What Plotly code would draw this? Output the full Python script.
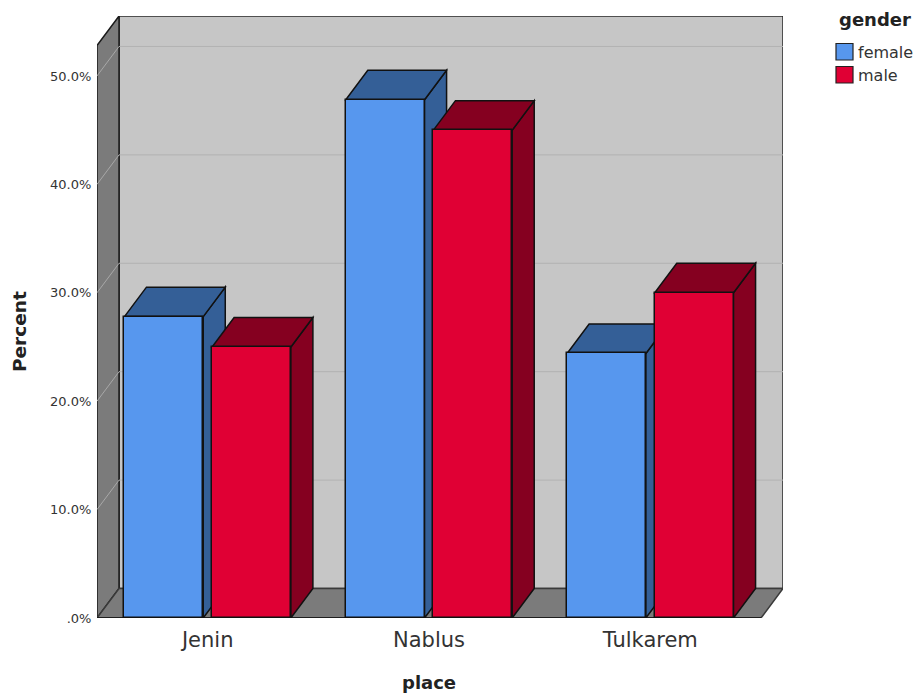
import plotly.graph_objects as go

# Survey shares by place and gender (percent within each gender)
places = ["Jenin", "Nablus", "Tulkarem"]
female = [27.8, 47.8, 24.4]
male = [25.0, 45.0, 30.0]
series_names = ["female", "male"]
y_ticks = [0, 10, 20, 30, 40, 50]
y_tick_labels = [".0%", "10.0%", "20.0%", "30.0%", "40.0%", "50.0%"]

# Pseudo-3D box: depth offset of the back plane, in axis units
DEPTH_X = 0.0995
DEPTH_Y = 2.72
Y_MAX = 55.53
Y_FRONT_TOP = Y_MAX - DEPTH_Y
X_MIN, X_FRONT_MAX = -0.5, 2.5
BAR_W = 0.356
OFFSETS = [-0.376, 0.02]

BLUE, BLUE_DARK = "#5797ee", "#345f97"
RED, RED_DARK = "#e00034", "#850020"
WALL, FLOOR = "#c6c6c6", "#7b7b7b"
EDGE = "#111111"
FONT = "DejaVu Sans"


def poly(points, fill, line=EDGE, width=1.5):
    path = "M " + " L ".join(f"{x},{y}" for x, y in points) + " Z"
    return dict(type="path", path=path, xref="x", yref="y", layer="below",
                fillcolor=fill, line=dict(color=line, width=width))


def seg(p, q, color, width=1.0):
    return dict(type="line", xref="x", yref="y", layer="below",
                x0=p[0], y0=p[1], x1=q[0], y1=q[1],
                line=dict(color=color, width=width))


bx0, bx1 = X_MIN + DEPTH_X, X_FRONT_MAX + DEPTH_X
shapes = [
    # back wall, left wall, floor
    poly([(bx0, DEPTH_Y), (bx0, Y_MAX), (bx1, Y_MAX), (bx1, DEPTH_Y)], WALL, "#2a2a2a"),
    poly([(X_MIN, 0), (X_MIN, Y_FRONT_TOP), (bx0, Y_MAX), (bx0, DEPTH_Y)], FLOOR, "#1a1a1a"),
    poly([(X_MIN, 0), (bx0, DEPTH_Y), (bx1, DEPTH_Y), (X_FRONT_MAX, 0)], FLOOR, "#3a3a3a"),
]
# gridlines run across the back wall and fold down the left wall
for t in y_ticks[1:]:
    shapes.append(seg((bx0, t + DEPTH_Y), (bx1, t + DEPTH_Y), "#b2b2b2"))
    shapes.append(seg((X_MIN, t), (bx0, t + DEPTH_Y), "#a8a8a8"))

# top and side faces of each box, drawn behind the bar fronts
for i in range(len(places)):
    for vals, off, dark in ((female, OFFSETS[0], BLUE_DARK), (male, OFFSETS[1], RED_DARK)):
        v = vals[i]
        x0 = i + off
        x1 = x0 + BAR_W
        shapes.append(poly([(x1, 0), (x1 + DEPTH_X, DEPTH_Y), (x1 + DEPTH_X, v + DEPTH_Y), (x1, v)], dark))
        shapes.append(poly([(x0, v), (x0 + DEPTH_X, v + DEPTH_Y), (x1 + DEPTH_X, v + DEPTH_Y), (x1, v)], dark))

# baseline along the front edge
shapes.append(seg((X_MIN, 0), (X_FRONT_MAX, 0), "#111111", 1.5))

fig = go.Figure()
positions = list(range(len(places)))
for name, vals, off, color in zip(series_names, (female, male), OFFSETS, (BLUE, RED)):
    fig.add_trace(go.Bar(
        x=positions, y=vals, name=name, width=BAR_W, offset=off,
        marker=dict(color=color, line=dict(color=EDGE, width=1.5)),
        showlegend=False,
    ))

# Legend block placed in pixel terms relative to the plot area
L, R, T, B = 97, 135, 16, 81
W, H = 918, 699
PW, PH = W - L - R, H - T - B


def px(x):
    return (x - L) / PW


def py(y):
    return (H - B - y) / PH


annotations = [
    dict(text="<b>gender</b>", x=px(875), y=py(19.5), xref="paper", yref="paper", showarrow=False,
         font=dict(family=FONT, size=18, color="#222222"), xanchor="center", yanchor="middle"),
    dict(text="<b>Percent</b>", x=px(19), y=py(332), xref="paper", yref="paper", showarrow=False, textangle=-90,
         font=dict(family=FONT, size=18.5, color="#222222"), xanchor="center", yanchor="middle"),
    dict(text="<b>place</b>", x=px(429), y=py(682.5), xref="paper", yref="paper", showarrow=False,
         font=dict(family=FONT, size=18, color="#222222"), xanchor="center", yanchor="middle"),
]
for name, color, top in zip(series_names, (BLUE, RED), (43.5, 66.5)):
    shapes.append(dict(type="rect", xref="paper", yref="paper", x0=px(836), x1=px(853),
                       y0=py(top), y1=py(top + 16.5), fillcolor=color, layer="above",
                       line=dict(color="#222222", width=1.2)))
    annotations.append(dict(text=name, x=px(855.5), y=py(top + 9), xref="paper", yref="paper", showarrow=False,
                            font=dict(family=FONT, size=16, color="#333333"),
                            xanchor="left", yanchor="middle"))

fig.update_layout(
    width=W, height=H, autosize=False,
    margin=dict(l=L, r=R, t=T, b=B, pad=0),
    paper_bgcolor="white", plot_bgcolor="white",
    showlegend=False, bargap=0,
    shapes=shapes, annotations=annotations,
    xaxis=dict(range=[X_MIN, bx1], tickvals=positions, ticktext=places,
               showgrid=False, zeroline=False, showline=False,
               ticks="outside", ticklen=3, tickcolor="rgba(0,0,0,0)",
               tickfont=dict(family=FONT, size=21, color="#333333")),
    yaxis=dict(range=[0, Y_MAX], tickvals=y_ticks, ticktext=y_tick_labels,
               showgrid=False, zeroline=False, showline=False,
               ticks="outside", ticklen=2, tickcolor="rgba(0,0,0,0)",
               tickfont=dict(family=FONT, size=13, color="#333333")),
)

fig.write_html("out.html")
